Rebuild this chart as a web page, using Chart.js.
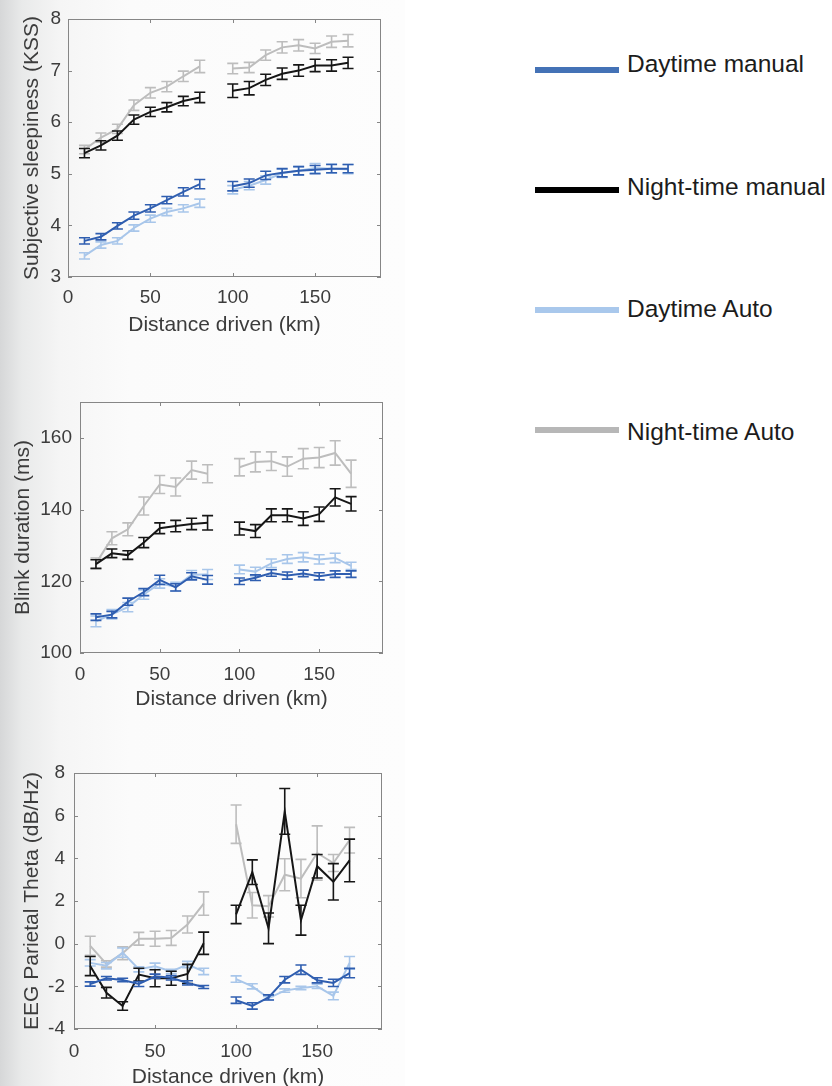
<!DOCTYPE html>
<html>
<head>
<meta charset="utf-8">
<title>Sleepiness, blink duration and EEG theta by distance driven</title>
<script src="https://cdn.jsdelivr.net/npm/chart.js@4.4.1/dist/chart.umd.min.js"></script>
<style>
  html, body { margin: 0; padding: 0; }
  body {
    width: 832px; height: 1086px; position: relative; overflow: hidden; background: #fff;
    font-family: "Liberation Sans", Arial, Helvetica, sans-serif;
  }
  .slide {
    position: absolute; left: 0; top: 0; width: 405px; height: 1086px;
    background: linear-gradient(to right, #d6d7d8 0px, #e9eaea 22px, #f5f5f5 60px, #fbfbfb 130px, #fdfdfd 405px);
  }
  canvas { position: absolute; left: 0; }
  .legend-row { position: absolute; left: 535px; height: 0; }
  .swatch { position: absolute; left: 0; top: -3px; width: 84px; height: 6px; }
  .legend-text {
    position: absolute; left: 92px; font-size: 24.5px; line-height: 1;
    white-space: nowrap; color: #1c1c1c;
  }
</style>
</head>
<body>
<div class="slide"></div>
<canvas id="kss" width="410" height="350" style="top:0"></canvas>
<canvas id="blink" width="410" height="350" style="top:370px"></canvas>
<canvas id="eeg" width="410" height="346" style="top:740px"></canvas>
<div id="legend"></div>

<script>
// distance driven (km); 90 km has no value, so every line breaks there
const km = [10, 20, 30, 40, 50, 60, 70, 80, 90, 100, 110, 120, 130, 140, 150, 160, 170];
const xTicks = [0, 50, 100, 150];

const seriesNames = ['Daytime manual', 'Night-time manual', 'Daytime Auto', 'Night-time Auto'];

// KSS
const kssTicks = [3, 4, 5, 6, 7, 8];
const kssDayManual = [3.70, 3.78, 3.99, 4.19, 4.33, 4.49, 4.65, 4.80, null, 4.76, 4.82, 4.97, 5.02, 5.06, 5.08, 5.10, 5.10];
const kssDayManualErr = [0.06, 0.06, 0.06, 0.07, 0.07, 0.07, 0.08, 0.09, null, 0.09, 0.08, 0.08, 0.08, 0.08, 0.08, 0.08, 0.08];
const kssNightManual = [5.40, 5.55, 5.74, 6.05, 6.20, 6.29, 6.41, 6.48, null, 6.61, 6.66, 6.82, 6.94, 7.00, 7.10, 7.10, 7.15];
const kssNightManualErr = [0.09, 0.09, 0.09, 0.09, 0.09, 0.09, 0.09, 0.10, null, 0.13, 0.13, 0.11, 0.11, 0.11, 0.12, 0.11, 0.11];
const kssDayAuto = [3.41, 3.62, 3.70, 3.95, 4.13, 4.26, 4.33, 4.43, null, 4.69, 4.77, 4.88, 5.01, 5.06, 5.11, 5.10, 5.09];
const kssDayAutoErr = [0.06, 0.06, 0.06, 0.06, 0.07, 0.07, 0.07, 0.08, null, 0.08, 0.08, 0.08, 0.08, 0.08, 0.09, 0.09, 0.09];
const kssNightAuto = [5.47, 5.70, 5.87, 6.33, 6.57, 6.69, 6.89, 7.08, null, 7.04, 7.06, 7.30, 7.45, 7.49, 7.43, 7.56, 7.58];
const kssNightAutoErr = [0.08, 0.09, 0.09, 0.10, 0.10, 0.10, 0.10, 0.12, null, 0.10, 0.10, 0.10, 0.11, 0.11, 0.10, 0.11, 0.12];

// blink duration (ms)
const blinkTicks = [100, 120, 140, 160];
const blinkDayManual = [110.0, 110.7, 114.3, 117.0, 120.4, 118.3, 121.4, 120.4, null, 120.0, 121.0, 122.3, 121.6, 122.2, 121.4, 122.0, 122.0];
const blinkDayManualErr = [0.9, 0.9, 1.0, 1.0, 1.3, 1.0, 1.0, 1.2, null, 0.9, 0.8, 0.9, 1.0, 0.9, 1.0, 0.9, 0.9];
const blinkNightManual = [124.8, 127.8, 127.3, 130.8, 134.8, 135.4, 136.0, 136.3, null, 134.7, 134.0, 138.4, 138.4, 137.5, 138.7, 143.4, 141.6];
const blinkNightManualErr = [1.2, 1.2, 1.2, 1.4, 1.5, 1.6, 1.6, 2.0, null, 1.8, 1.8, 1.8, 1.8, 1.9, 2.0, 2.4, 2.0];
const blinkDayAuto = [108.8, 110.8, 112.8, 116.3, 119.4, 118.5, 121.8, 121.9, null, 123.3, 122.7, 125.0, 126.2, 126.7, 126.1, 126.5, 124.3];
const blinkDayAutoErr = [1.5, 1.3, 1.3, 1.3, 1.3, 1.2, 1.2, 1.4, null, 1.2, 1.2, 1.2, 1.2, 1.3, 1.3, 1.3, 1.0];
const blinkNightAuto = [125.0, 132.0, 134.5, 141.0, 147.0, 146.3, 151.0, 150.0, null, 151.8, 153.3, 153.5, 152.0, 154.2, 154.5, 155.8, 150.0];
const blinkNightAutoErr = [1.5, 1.8, 1.8, 2.5, 2.5, 2.5, 2.5, 2.5, null, 2.4, 2.8, 2.6, 2.7, 2.8, 2.8, 3.4, 3.8];

// EEG parietal theta (dB/Hz)
const eegTicks = [-4, -2, 0, 2, 4, 6, 8];
const eegDayManual = [-1.89, -1.62, -1.70, -1.89, -1.53, -1.60, -1.84, -2.03, null, -2.65, -2.92, -2.52, -1.69, -1.22, -1.72, -1.84, -1.38];
const eegDayManualErr = [0.10, 0.08, 0.08, 0.12, 0.10, 0.10, 0.10, 0.07, null, 0.15, 0.15, 0.12, 0.15, 0.22, 0.12, 0.17, 0.22];
const eegNightManual = [-1.05, -2.30, -2.92, -1.45, -1.62, -1.62, -1.42, 0.02, null, 1.37, 3.35, 0.72, 6.20, 1.10, 3.63, 2.90, 3.90];
const eegNightManualErr = [0.45, 0.25, 0.20, 0.30, 0.40, 0.33, 0.45, 0.52, null, 0.43, 0.58, 0.72, 1.07, 0.70, 0.55, 0.85, 1.00];
const eegDayAuto = [-0.90, -1.03, -0.42, -1.20, -1.06, -1.30, -0.98, -1.30, null, -1.66, -2.00, -2.55, -2.20, -2.08, -2.00, -2.45, -0.90];
const eegDayAutoErr = [0.15, 0.15, 0.22, 0.12, 0.15, 0.10, 0.15, 0.15, null, 0.15, 0.12, 0.08, 0.08, 0.08, 0.10, 0.18, 0.30];
const eegNightAuto = [-0.10, -0.95, -0.45, 0.23, 0.23, 0.27, 0.90, 1.88, null, 5.60, 1.80, 1.75, 3.23, 3.05, 4.25, 3.78, 4.85];
const eegNightAutoErr = [0.45, 0.15, 0.30, 0.30, 0.35, 0.35, 0.40, 0.55, null, 0.90, 0.60, 0.50, 0.75, 0.90, 1.27, 0.40, 0.60];

const lineColors = ['#2f5eb0', '#161616', '#a8c6ea', '#bdbdbd'];
const legendColors = ['#4472b6', '#000000', '#a9c8ec', '#b7b7b7'];
const FONT = '"Liberation Sans", Arial, Helvetica, sans-serif';

// matlab-style error bars, drawn with the chart's own scales
const errorBars = {
  id: 'errorBars',
  afterDatasetDraw(chart, args) {
    const ds = chart.data.datasets[args.index];
    if (!ds.err) return;
    const { ctx, scales: { x, y } } = chart;
    ctx.save();
    ctx.strokeStyle = ds.borderColor;
    ctx.lineWidth = 1.6;
    ds.data.forEach((p, i) => {
      if (p.y == null) return;
      const px = x.getPixelForValue(p.x);
      const top = y.getPixelForValue(p.y + ds.err[i]);
      const bot = y.getPixelForValue(p.y - ds.err[i]);
      ctx.beginPath();
      ctx.moveTo(px, top); ctx.lineTo(px, bot);
      ctx.moveTo(px - 5.5, top); ctx.lineTo(px + 5.5, top);
      ctx.moveTo(px - 5.5, bot); ctx.lineTo(px + 5.5, bot);
      ctx.stroke();
    });
    ctx.restore();
  }
};

// box round the plot with inward tick marks on all four sides
const axesBox = {
  id: 'axesBox',
  beforeDatasetsDraw(chart) {
    const { ctx, chartArea: a, scales: { x, y } } = chart;
    ctx.save();
    ctx.strokeStyle = '#868686';
    ctx.lineWidth = 1;
    ctx.strokeRect(a.left + 0.5, a.top + 0.5, a.right - a.left - 1, a.bottom - a.top - 1);
    ctx.beginPath();
    x.ticks.forEach((t) => {
      const px = Math.round(x.getPixelForValue(t.value)) + 0.5;
      ctx.moveTo(px, a.bottom); ctx.lineTo(px, a.bottom - 4);
      ctx.moveTo(px, a.top); ctx.lineTo(px, a.top + 4);
    });
    y.ticks.forEach((t) => {
      const py = Math.round(y.getPixelForValue(t.value)) + 0.5;
      ctx.moveTo(a.left, py); ctx.lineTo(a.left + 4, py);
      ctx.moveTo(a.right, py); ctx.lineTo(a.right - 4, py);
    });
    ctx.stroke();
    ctx.restore();
  }
};

function makePanel(id, box, yMin, yMax, yTicks, yTitle, values, errors) {
  const datasets = values.map((vals, s) => ({
    label: seriesNames[s],
    data: km.map((k, i) => ({ x: k, y: vals[i] })),
    err: errors[s],
    borderColor: lineColors[s],
    borderWidth: 2,
    pointRadius: 0,
    spanGaps: false,
    tension: 0
  }));

  new Chart(document.getElementById(id), {
    type: 'line',
    data: { datasets },
    plugins: [axesBox, errorBars],
    options: {
      responsive: false,
      animation: false,
      events: [],
      layout: { padding: { top: box.padTop, right: box.padRight, left: 0, bottom: 0 } },
      plugins: { legend: { display: false }, tooltip: { enabled: false } },
      scales: {
        x: {
          type: 'linear', min: 0, max: 190,
          grid: { display: false, drawTicks: false }, border: { display: false },
          afterBuildTicks: (scale) => { scale.ticks = xTicks.map((v) => ({ value: v })); },
          afterFit: (scale) => { scale.height = box.xHeight; },
          ticks: { padding: box.xTickPad, color: '#3c3c3c', font: { family: FONT, size: 19 }, maxRotation: 0 },
          title: {
            display: true, text: 'Distance driven (km)', color: '#3c3c3c',
            font: { family: FONT, size: 21, lineHeight: 1 }, padding: { top: 0, bottom: box.xTitlePad }
          }
        },
        y: {
          min: yMin, max: yMax,
          grid: { display: false, drawTicks: false }, border: { display: false },
          afterBuildTicks: (scale) => { scale.ticks = yTicks.map((v) => ({ value: v })); },
          afterFit: (scale) => { scale.width = box.yWidth; },
          ticks: { padding: box.yTickPad, color: '#3c3c3c', font: { family: FONT, size: 19 } },
          title: {
            display: true, text: yTitle, color: '#3c3c3c',
            font: { family: FONT, size: 21, lineHeight: 1 }, padding: { top: box.yTitlePad, bottom: 0 }
          }
        }
      }
    }
  });
}

makePanel('kss', { padTop: 19, padRight: 29, yWidth: 68, xHeight: 73, xTickPad: 9, xTitlePad: 14, yTickPad: 7, yTitlePad: 22 },
  3, 8, kssTicks, 'Subjective sleepiness (KSS)',
  [kssDayManual, kssNightManual, kssDayAuto, kssNightAuto],
  [kssDayManualErr, kssNightManualErr, kssDayAutoErr, kssNightAutoErr]);

makePanel('blink', { padTop: 32, padRight: 27, yWidth: 80, xHeight: 67, xTickPad: 10, xTitlePad: 10, yTickPad: 8, yTitlePad: 13 },
  100, 170, blinkTicks, 'Blink duration (ms)',
  [blinkDayManual, blinkNightManual, blinkDayAuto, blinkNightAuto],
  [blinkDayManualErr, blinkNightManualErr, blinkDayAutoErr, blinkNightAutoErr]);

makePanel('eeg', { padTop: 33, padRight: 28, yWidth: 74, xHeight: 57, xTickPad: 11, xTitlePad: -2, yTickPad: 9, yTitlePad: 22 },
  -4, 8, eegTicks, 'EEG Parietal Theta (dB/Hz)',
  [eegDayManual, eegNightManual, eegDayAuto, eegNightAuto],
  [eegDayManualErr, eegNightManualErr, eegDayAutoErr, eegNightAutoErr]);

// swatches sit 120px apart, the labels a little further apart (as in the slide)
document.getElementById('legend').innerHTML = seriesNames.map((name, s) => `
  <div class="legend-row" style="top:${70 + 120 * s}px">
    <span class="swatch" style="background:${legendColors[s]}"></span>
    <span class="legend-text" style="top:${-17.7 + 2.5 * s}px">${name}</span>
  </div>`).join('');
</script>
</body>
</html>
